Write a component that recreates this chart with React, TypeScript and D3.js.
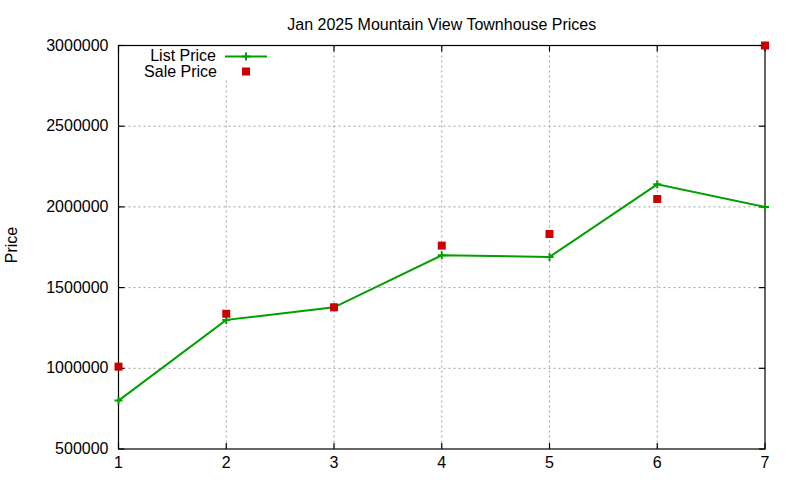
import React from "react";
import * as d3 from "d3";

const houses = [1, 2, 3, 4, 5, 6, 7];
const listPrice = [800000, 1300000, 1378000, 1700000, 1690000, 2140000, 2000000];
const salePrice = [1010000, 1338000, 1378000, 1760000, 1832000, 2049000, 3000000];
const yTicks = [500000, 1000000, 1500000, 2000000, 2500000, 3000000];
const xTicks = [1, 2, 3, 4, 5, 6, 7];

const W = 800;
const H = 480;
const left = 118.5;
const right = 765;
const top = 45.5;
const bottom = 449;
const font = "'Liberation Sans', Arial, sans-serif";
const green = "#00a000";
const red = "#cc0000";

export default function App() {
  const x = d3.scaleLinear().domain([1, 7]).range([left, right]);
  const y = d3.scaleLinear().domain([500000, 3000000]).range([bottom, top]);
  const line = d3
    .line<number>()
    .x((_, i) => x(houses[i]))
    .y((d) => y(d));

  const tickLen = 6;
  return (
    <svg
      width={W}
      height={H}
      style={{ position: "absolute", left: 0, top: 0, background: "#fff" }}
      fontFamily={font}
    >
      <rect x={0} y={0} width={W} height={H} fill="#fff" />
      {/* grid */}
      {yTicks.slice(1, -1).map((t) => (
        <line key={"gy" + t} x1={left} x2={right} y1={y(t)} y2={y(t)} stroke="#a0a0a0" strokeWidth={1} strokeDasharray="2,3" />
      ))}
      {xTicks.slice(1, -1).map((t) => (
        <line key={"gx" + t} x1={x(t)} x2={x(t)} y1={top} y2={bottom} stroke="#a0a0a0" strokeWidth={1} strokeDasharray="2,3" />
      ))}
      {/* legend background */}
      <rect x={140} y={top + 0.5} width={132} height={34} fill="#fff" />
      {/* border */}
      <rect x={left} y={top} width={right - left} height={bottom - top} fill="none" stroke="#000" strokeWidth={1.2} />
      {/* ticks */}
      {yTicks.map((t) => (
        <g key={"ty" + t}>
          <line x1={left} x2={left + tickLen} y1={y(t)} y2={y(t)} stroke="#000" strokeWidth={1.2} />
          <line x1={right} x2={right - tickLen} y1={y(t)} y2={y(t)} stroke="#000" strokeWidth={1.2} />
          <text x={left - 10} y={y(t) + 5} textAnchor="end" fontSize={16} fill="#000">
            {t}
          </text>
        </g>
      ))}
      {xTicks.map((t) => (
        <g key={"tx" + t}>
          {!(t === 2) && (
            <line x1={x(t)} x2={x(t)} y1={top} y2={top + tickLen} stroke="#000" strokeWidth={1.2} />
          )}
          <line x1={x(t)} x2={x(t)} y1={bottom} y2={bottom - tickLen} stroke="#000" strokeWidth={1.2} />
          <text x={x(t)} y={467.5} textAnchor="middle" fontSize={16} fill="#000">
            {t}
          </text>
        </g>
      ))}
      {/* title and axis label */}
      <text x={(left + right) / 2} y={29.5} textAnchor="middle" fontSize={16} fill="#000">
        Jan 2025 Mountain View Townhouse Prices
      </text>
      <text transform="translate(17,245) rotate(-90)" textAnchor="middle" fontSize={16} fill="#000">
        Price
      </text>
      {/* list price line */}
      <path d={line(listPrice) || ""} fill="none" stroke={green} strokeWidth={2} />
      {listPrice.map((v, i) => (
        <path
          key={"lp" + i}
          d={`M${x(houses[i]) - 4},${y(v)}h8M${x(houses[i])},${y(v) - 4}v8`}
          stroke={green}
          strokeWidth={2}
        />
      ))}
      {/* sale price squares */}
      {salePrice.map((v, i) => (
        <rect key={"sp" + i} x={x(houses[i]) - 4} y={y(v) - 4} width={8} height={8} fill={red} />
      ))}
      {/* legend */}
      <text x={216} y={61} textAnchor="end" fontSize={16} fill="#000">
        List Price
      </text>
      <line x1={225} x2={267} y1={56.5} y2={56.5} stroke={green} strokeWidth={2} />
      <path d={`M242,56.5h8M246,52.5v8`} stroke={green} strokeWidth={2} />
      <text x={217} y={76.5} textAnchor="end" fontSize={16} fill="#000">
        Sale Price
      </text>
      <rect x={242} y={67.5} width={8} height={8} fill={red} />
    </svg>
  );
}
